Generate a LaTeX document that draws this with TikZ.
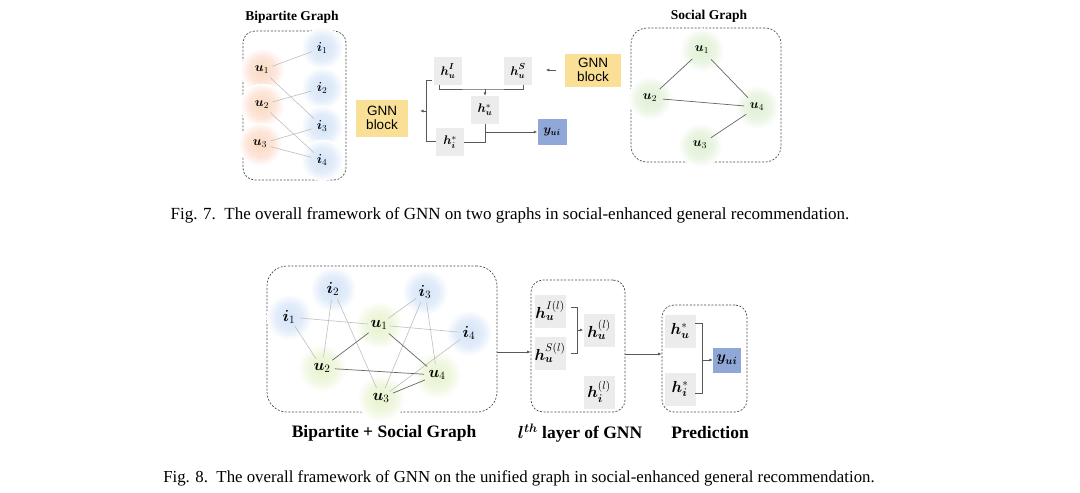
\RequirePackage{fix-cm}
\documentclass[tikz,border=0pt]{standalone}
\usepackage{amsmath,bm}
\usepackage{fontspec}
\setmainfont{Liberation Serif}
\newfontfamily\sansf{Liberation Sans}
\usetikzlibrary{arrows.meta}
\definecolor{gnnyel}{RGB}{250,224,150}
\definecolor{ybl}{RGB}{143,168,216}
\definecolor{hgr}{RGB}{236,236,236}
\pgfdeclareradialshading{ublobA}{\pgfpointorigin}{rgb(0bp)=(0.98,0.85,0.76); rgb(15bp)=(0.99,0.90,0.85); rgb(25bp)=(1,1,1)}
\pgfdeclareradialshading{iblob}{\pgfpointorigin}{rgb(0bp)=(0.83,0.89,0.97); rgb(15bp)=(0.89,0.93,0.98); rgb(25bp)=(1,1,1)}
\pgfdeclareradialshading{gblob}{\pgfpointorigin}{rgb(0bp)=(0.87,0.94,0.83); rgb(15bp)=(0.92,0.96,0.89); rgb(25bp)=(1,1,1)}
\pgfdeclareradialshading{yblob}{\pgfpointorigin}{rgb(0bp)=(0.90,0.95,0.80); rgb(15bp)=(0.94,0.97,0.88); rgb(25bp)=(1,1,1)}
\newcommand{\hsup}[1]{\raisebox{1.8pt}{$\scriptstyle\bm{#1}$}}
\begin{document}
\begin{tikzpicture}[x=1pt,y=-1pt,
  dbox/.style={draw=black!70, dash pattern=on 2pt off 1.6pt, line width=0.7pt, rounded corners=12pt, inner sep=0pt},
  blob/.style={circle, inner sep=0pt, shade},
  tu/.style={blob, minimum size=44pt, shading=ublobA, font=\fontsize{13}{15}\selectfont},
  ti/.style={blob, minimum size=42pt, shading=iblob, font=\fontsize{13}{15}\selectfont},
  su/.style={blob, minimum size=44pt, shading=gblob, font=\fontsize{13}{15}\selectfont},
  bi/.style={blob, minimum size=46pt, shading=iblob, font=\fontsize{16}{18}\selectfont},
  bu/.style={blob, minimum size=48pt, shading=yblob, font=\fontsize{16}{18}\selectfont},
  hbox/.style={fill=hgr, inner sep=0pt, minimum width=28pt, minimum height=28pt, font=\fontsize{12.5}{14}\selectfont},
  hbig/.style={fill=hgr, inner sep=0pt, minimum width=31pt, minimum height=33pt, font=\fontsize{16}{18}\selectfont},
  gnn/.style={fill=gnnyel, inner sep=0pt, align=center, font=\sansf\fontsize{13.5}{14.5}\selectfont},
  ybox/.style={fill=ybl, inner sep=0pt, minimum width=29pt, minimum height=26pt, font=\fontsize{12.5}{14}\selectfont},
  ledge/.style={draw=black!25, line width=0.6pt, shorten <=11pt, shorten >=11pt},
  sedge/.style={draw=black!60, line width=0.7pt, shorten <=13pt, shorten >=13pt},
  conn/.style={draw=black!65, line width=0.7pt},
  arr/.style={conn, -{Latex[length=3.5pt,width=3pt]}},
  ttl/.style={font=\bfseries\fontsize{13.5}{15}\selectfont},
  bttl/.style={font=\bfseries\fontsize{17.5}{19}\selectfont},
  figcap/.style={font=\fontsize{17}{19}\selectfont}]
\fill[white] (0,0) rectangle (1080,493);
\useasboundingbox (0,0) rectangle (1080,493);

% ---------- Fig. 7 ----------
\node[ttl] (tt1) at (292,17) {Bipartite Graph};
\node[dbox, minimum width=103pt, minimum height=149pt] (B1) at (294.5,105.5) {};
\node[tu] (tu1) at (262,70) {$\bm{u}_1$};
\node[tu] (tu2) at (262,105) {$\bm{u}_2$};
\node[tu] (tu3) at (260,144) {$\bm{u}_3$};
\node[ti] (ti1) at (322,48) {$\bm{i}_1$};
\node[ti] (ti2) at (322,88) {$\bm{i}_2$};
\node[ti] (ti3) at (322,126) {$\bm{i}_3$};
\node[ti] (ti4) at (322,160) {$\bm{i}_4$};
\draw[ledge] (tu1.center) -- (ti1.center);
\draw[ledge] (tu1.center) -- (ti3.center);
\draw[ledge] (tu2.center) -- (ti2.center);
\draw[ledge] (tu2.center) -- (ti4.center);
\draw[ledge] (tu3.center) -- (ti3.center);
\draw[ledge] (tu3.center) -- (ti4.center);

\node[gnn, minimum width=52pt, minimum height=37pt] (gL) at (382,118) {GNN\\block};
\node[gnn, minimum width=56pt, minimum height=33pt] (gR) at (593,70) {GNN\\block};

\node[hbox] (hI) at (448,71) {$\bm{h}^{\hsup{I}}_{\bm{u}}$};
\node[hbox] (hS) at (518,71) {$\bm{h}^{\hsup{S}}_{\bm{u}}$};
\node[hbox] (hU) at (485,110) {$\bm{h}_{\bm{u}}^{*}$};
\node[hbox] (hIt) at (450,142) {$\bm{h}_{\bm{i}}^{*}$};
\node[ybox] (yT) at (552,132) {$\bm{y}_{\bm{ui}}$};

\coordinate (bt) at (432,80);
\coordinate (bb) at (436,141);
\coordinate (bm) at (426,111);
\draw[conn] (bt) -- (426,80) -- (426,141) -- (bb);
\draw[arr] (bm) -- ++(-6,0);
\coordinate (jn) at (hU.center |- 0,89);
\draw[conn] (hI.south west) ++(6,0) |- (jn) -| ([xshift=5pt]hS.south);
\draw[arr] (jn) -- (hU.north);
\coordinate (jy) at (hU.center |- yT);
\draw[conn] (hU.south) -- (hU.center |- hIt.east) -- (hIt.east);
\draw[arr] (jy) -- (yT.west);
\draw[arr] (gR.west) ++(-9,0) -- ++(-10,0);

\node[ttl] (tt2) at (709,16) {Social Graph};
\node[dbox, minimum width=150pt, minimum height=134pt, rounded corners=16pt] (B2) at (706,95) {};
\node[su] (su1) at (702,50) {$\bm{u}_1$};
\node[su] (su2) at (650,98) {$\bm{u}_2$};
\node[su] (su4) at (757,107) {$\bm{u}_4$};
\node[su] (su3) at (700,145) {$\bm{u}_3$};
\draw[sedge] (su1.center) -- (su2.center);
\draw[sedge] (su1.center) -- (su4.center);
\draw[sedge] (su2.center) -- (su4.center);
\draw[sedge] (su3.center) -- (su4.center);

\node[figcap] (c7) at (510,215) {Fig. 7.\ \ The overall framework of GNN on two graphs in social-enhanced general recommendation.};

% ---------- Fig. 8 ----------
\node[dbox, minimum width=230pt, minimum height=146pt, rounded corners=20pt] (C1) at (382,339) {};
\node[bi] (bi1) at (289,317) {$\bm{i}_1$};
\node[bi] (bi2) at (333,289) {$\bm{i}_2$};
\node[bi] (bi3) at (425,292) {$\bm{i}_3$};
\node[bi] (bi4) at (469,333) {$\bm{i}_4$};
\node[bu] (bu1) at (379,325) {$\bm{u}_1$};
\node[bu] (bu2) at (322,368) {$\bm{u}_2$};
\node[bu] (bu4) at (437,375) {$\bm{u}_4$};
\node[bu] (bu3) at (381,398) {$\bm{u}_3$};
\draw[ledge] (bi1.center) -- (bu1.center);
\draw[ledge] (bi1.center) -- (bu2.center);
\draw[ledge] (bi2.center) -- (bu2.center);
\draw[ledge] (bi2.center) -- (bu3.center);
\draw[ledge] (bi3.center) -- (bu1.center);
\draw[ledge] (bi3.center) -- (bu3.center);
\draw[ledge] (bi3.center) -- (bu4.center);
\draw[ledge] (bi4.center) -- (bu1.center);
\draw[ledge] (bi4.center) -- (bu3.center);
\draw[sedge] (bu1.center) -- (bu2.center);
\draw[sedge] (bu1.center) -- (bu4.center);
\draw[sedge] (bu2.center) -- (bu4.center);
\draw[sedge] (bu3.center) -- (bu4.center);
\node[bttl] (l1) at (384,433) {Bipartite + Social Graph};

\node[dbox, minimum width=94pt, minimum height=132pt] (C2) at (578,346) {};
\node[hbig] (hIl) at (550,311) {$\bm{h}_{\bm{u}}^{I(l)}$};
\node[hbig] (hSl) at (550,353) {$\bm{h}_{\bm{u}}^{S(l)}$};
\node[hbig] (hl) at (599,330) {$\bm{h}_{\bm{u}}^{(l)}$};
\node[hbig] (hil) at (599,392) {$\bm{h}_{\bm{i}}^{(l)}$};
\coordinate (k2t) at (571,307);
\coordinate (k2b) at (571,353);
\coordinate (k2m) at (577,330);
\draw[conn] (k2t) -- (577,307) -- (577,353) -- (k2b);
\draw[arr] (k2m) -- (hl.west);
\node[bttl] (l2) at (580,433) {$\bm{l^{th}}$ layer of GNN};

\node[dbox, minimum width=85pt, minimum height=107pt] (C3) at (704.5,358.5) {};
\node[hbig] (hus) at (680,331) {$\bm{h}_{\bm{u}}^{*}$};
\node[hbig] (his) at (680,389) {$\bm{h}_{\bm{i}}^{*}$};
\node[ybox, minimum width=28pt, minimum height=25pt, font=\fontsize{15}{17}\selectfont] (yB) at (727,360) {$\bm{y}_{\bm{ui}}$};
\coordinate (k3t) at (695,323);
\coordinate (k3b) at (695,393);
\coordinate (k3m) at (702,360);
\draw[conn] (k3t) -- (702,323) -- (702,393) -- (k3b);
\draw[arr] (k3m) -- (yB.west);
\node[bttl] (l3) at (710,433) {Prediction};

\coordinate (a1) at (C1.east |- 0,352);
\draw[arr] (a1) -- (C2.west |- a1);
\coordinate (a2) at (C2.east |- 0,354);
\draw[arr] (a2) -- (C3.west |- a2);

\node[figcap, font=\fontsize{16.8}{19}\selectfont] (c8) at (519,478) {Fig. 8.\ \ The overall framework of GNN on the unified graph in social-enhanced general recommendation.};
\end{tikzpicture}
\end{document}
